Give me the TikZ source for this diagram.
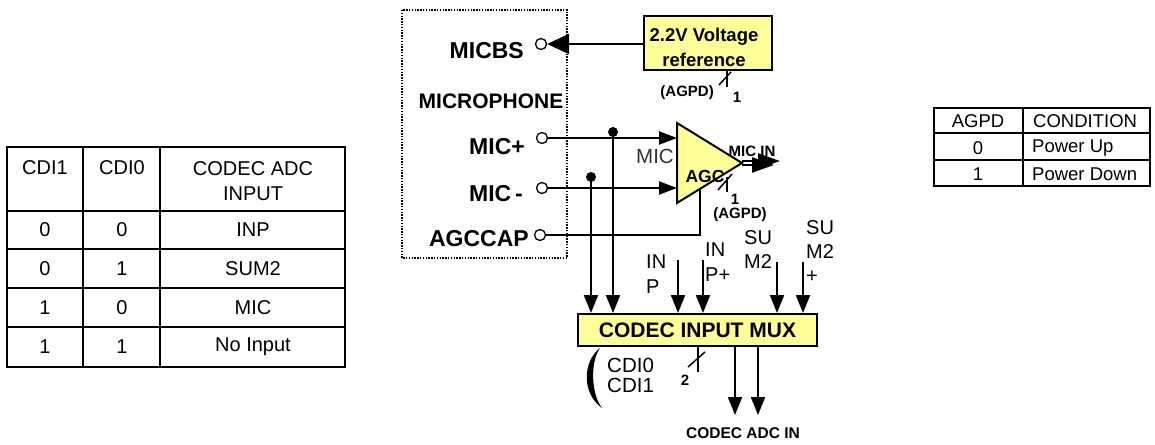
\documentclass[tikz,border=0pt]{standalone}
\usepackage{fontspec}
\setmainfont{Liberation Sans}
\usetikzlibrary{arrows.meta}
\definecolor{boxyellow}{HTML}{FFFF99}

\begin{document}
\begin{tikzpicture}[x=1pt,y=-1pt,
  wire/.style={line width=2pt},
  sig/.style={wire,-{Triangle[length=18pt,width=14pt]}},
  pin/.style={circle,draw,line width=1.3pt,fill=white,inner sep=0pt,minimum size=11pt},
  tbl/.style={line width=1.8pt},
  pinlbl/.style={anchor=east,inner sep=0pt,font=\bfseries\fontsize{23}{25}\selectfont},
  txt/.style={inner sep=0pt,font=\fontsize{20}{25}\selectfont},
  small/.style={inner sep=0pt,font=\bfseries\fontsize{15}{16}\selectfont}]
\useasboundingbox (0,0) rectangle (1155,444);

% left table
\draw [tbl] (7,147) rectangle (345,367);
\draw [tbl] (83,147) -- (83,367);
\draw [tbl] (160,147) -- (160,367);
\foreach \y in {211,249,288,327} \draw [tbl] (7,\y) -- (345,\y);
\node [txt] (h1) at (45,168) {CDI1};
\node [txt] (h0) at (122,168) {CDI0};
\node [txt,align=center] (hin) at (253,181) {CODEC ADC\\INPUT};
\foreach \a/\b/\c [count=\i] in {0/0/INP,0/1/SUM2,1/0/MIC,1/1/No Input} {
  \node [txt] (ra\i) at (45,{191+39*\i}) {\a};
  \node [txt] (rb\i) at (122,{191+39*\i}) {\b};
  \node [txt] (rc\i) at (253,{191+39*\i}) {\c};
}

% right table
\draw [tbl] (934,108) rectangle (1150,186);
\draw [tbl] (1023,108) -- (1023,186);
\draw [tbl] (934,133) -- (1150,133);
\draw [tbl] (934,160) -- (1150,160);
\node [txt,font=\fontsize{18.5}{20}\selectfont] (ag) at (978,121) {AGPD};
\node [txt,font=\fontsize{18.5}{20}\selectfont,anchor=west] (cond) at (1033,121) {CONDITION};
\node [txt,font=\fontsize{18.5}{20}\selectfont] (ag0) at (978,148) {0};
\node [txt,font=\fontsize{18.5}{20}\selectfont,anchor=west] (pu) at (1032,148) {Power Up};
\node [txt,font=\fontsize{18.5}{20}\selectfont] (ag1) at (978,174) {1};
\node [txt,font=\fontsize{18.5}{20}\selectfont,anchor=west] (pd) at (1032,174) {Power Down};

% microphone block
\draw [line width=1.2pt,dash pattern=on 1.4pt off 1.4pt] (402,10) rectangle (567,258);
\node [pinlbl] (micbs) at (524,51) {MICBS};
\node [inner sep=0pt,font=\bfseries\fontsize{21}{23}\selectfont] (mic) at (491,101) {MICROPHONE};
\node [pinlbl] (micplbl) at (525,147) {MIC+};
\node [pinlbl] (micmlbl) at (523,194) {MIC\,-};
\node [pinlbl] (agccaplbl) at (529,239) {AGCCAP};
\node [pin] (micbspin) at (541,44) {};
\node [pin] (micppin) at (542,138) {};
\node [pin] (micmpin) at (542,188) {};
\node [pin] (agcpin) at (540,235) {};

% voltage reference
\node [draw,wire,fill=boxyellow,minimum width=128pt,minimum height=54pt] (vref) at (708,43) {};
\node [inner sep=0pt,align=center,font=\bfseries\fontsize{18.5}{25}\selectfont] (vreftxt) at (704,47) {2.2V Voltage\\reference};
\draw [wire,-{Triangle[length=22pt,width=20pt]}] (micbspin -| vref.west) -- (micbspin.east);
\draw [line width=1.5pt] (727,70) -- (727,87);
\draw [line width=1.5pt] (719,85) -- (731,72);
\node [small,anchor=east] (agpdA) at (714,93) {(AGPD)};
\node [small] (oneA) at (737,97) {1};

% AGC amplifier
\coordinate (agct) at (677,123);
\coordinate (agcb) at (677,203);
\coordinate (agco) at (742,163);
\draw [wire,fill=boxyellow] (agct) -- (agco) -- (agcb) -- cycle;
\node [inner sep=0pt,font=\bfseries\fontsize{17.5}{19}\selectfont] (agc) at (705,176) {AGC};
\node [inner sep=0pt,text=black!80,font=\fontsize{20.5}{22}\selectfont] (miclbl) at (655,156) {MIC};
\draw [sig,-{Triangle[length=18pt,width=13pt]}] (micppin.east) -- (micppin -| agct);
\draw [sig,-{Triangle[length=18pt,width=13pt]}] (micmpin.east) -- (micmpin -| agct);
\coordinate (capup) at (700,189);
\draw [wire] (agcpin.east) -| (capup);
\coordinate (micin1) at (780,161);
\coordinate (micin2) at (774,165);
\draw [wire,-{Triangle[length=22pt,width=15pt]}] (agco) ++(0,-2) -- (micin1);
\draw [wire,-{Triangle[length=22pt,width=15pt]}] (agco) ++(0,2) -- (micin2);
\node [small] (micin) at (752,151) {MIC IN};
\draw [line width=1.5pt] (727,177) -- (727,192);
\draw [line width=1.5pt] (718,190) -- (732,174);
\node [small] (oneB) at (735,199) {1};
\node [small] (agpdB) at (740,215) {(AGPD)};

% codec input mux
\node [draw,wire,fill=boxyellow,minimum width=239pt,minimum height=32pt,inner sep=0pt,
  font=\bfseries\fontsize{21}{23}\selectfont] (mux) at (697.5,330) {CODEC INPUT MUX};
\fill (613,132) circle [radius=5pt] coordinate (dotA);
\fill (591,177) circle [radius=5pt] coordinate (dotB);
\draw [sig] (dotA) -- (dotA |- mux.north);
\draw [sig] (dotB) -- (dotB |- mux.north);
\coordinate (inp) at (678,260);
\coordinate (inpp) at (703,260);
\coordinate (sum) at (777,262);
\coordinate (sump) at (803,262);
\foreach \c in {inp,inpp,sum,sump} \draw [sig] (\c) -- (\c |- mux.north);
\node [txt,align=left,anchor=west] (inplbl) at (646,274) {IN\\P};
\node [txt,align=left,anchor=west] (inpplbl) at (705,262) {IN\\P+};
\node [txt,align=left,anchor=west,font=\fontsize{20}{24}\selectfont] (sumlbl) at (744,250) {SU\\M2};
\node [txt,align=left,anchor=west,font=\fontsize{20}{24}\selectfont] (sumplbl) at (806,252) {SU\\M2\\+};
\coordinate (adc1) at (735,415);
\coordinate (adc2) at (758,415);
\draw [sig] (adc1 |- mux.south) -- (adc1);
\draw [sig] (adc2 |- mux.south) -- (adc2);
\node [small,font=\bfseries\fontsize{15.5}{16}\selectfont] (adcin) at (743,433) {CODEC ADC IN};
\draw [line width=1.5pt] (698,346) -- (698,372);
\draw [line width=1.5pt] (688,367) -- (705,352);
\node [small] (two) at (685,380) {2};
\fill (600,348) .. controls (582,362) and (582,394) .. (602,408)
  .. controls (591,394) and (590,362) .. cycle;
\node [txt,align=left,anchor=west,font=\fontsize{20.5}{20}\selectfont] (cdi) at (607,375) {CDI0\\CDI1};
\end{tikzpicture}
\end{document}
